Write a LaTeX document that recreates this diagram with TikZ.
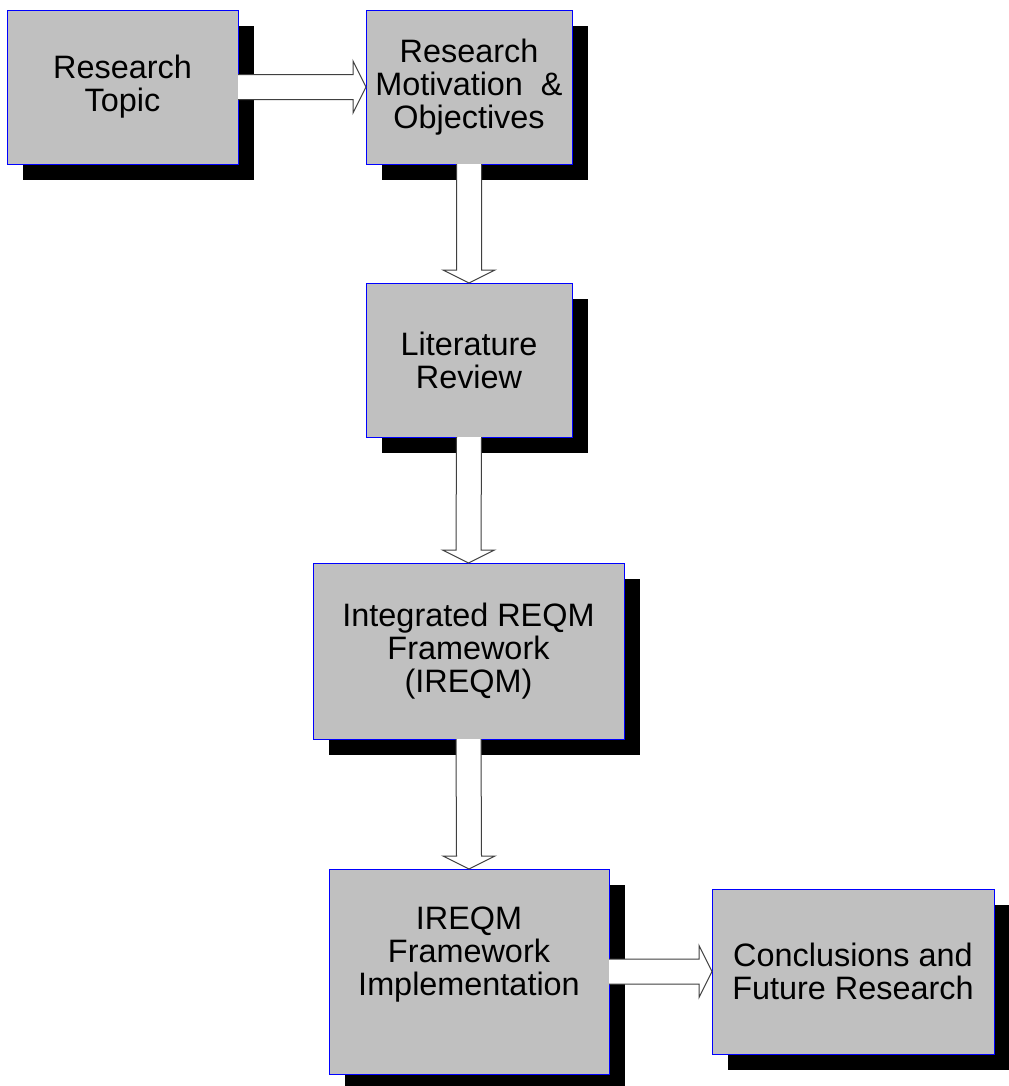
\documentclass[tikz,border=0pt]{standalone}
\usepackage{fontspec}
\setmainfont{Liberation Sans}
\usetikzlibrary{calc, shadows}

\definecolor{boxgray}{HTML}{C0C0C0}
\definecolor{arrowline}{HTML}{404040}

% block arrows between two named boxes
\newcommand\vArrow[2]{%
  \filldraw[barrow] ($(#1.south)+(-12.5,0)$) -- ($(#2.north)+(-12.5,-13)$)
    -- ($(#2.north)+(-26,-13)$) -- (#2.north) -- ($(#2.north)+(26,-13)$)
    -- ($(#2.north)+(12.5,-13)$) -- ($(#1.south)+(12.5,0)$);}
\newcommand\hArrow[2]{%
  \filldraw[barrow] ($(#1.east)+(0,-12.5)$) -- ($(#2.west)+(-13,-12.5)$)
    -- ($(#2.west)+(-13,-26)$) -- (#2.west) -- ($(#2.west)+(-13,26)$)
    -- ($(#2.west)+(-13,12.5)$) -- ($(#1.east)+(0,12.5)$);}

\begin{document}
\begin{tikzpicture}[x=0.75pt, y=-0.75pt]
  % -----------------------------
  % STYLES
  % -----------------------------
  \tikzset{
    txt/.style={font=\fontsize{24.3}{24.8}\selectfont, align=center},
    bx/.style={txt, rectangle, fill=boxgray, draw=blue, line width=0.75pt,
      outer sep=0pt, inner sep=0pt,
      drop shadow={shadow xshift=12pt, shadow yshift=-12pt, fill=black, opacity=1}},
    barrow/.style={fill=white, draw=arrowline, line width=0.75pt, line join=miter},
  }

  \useasboundingbox (0,0) rectangle (1008,1086);

  % -----------------------------
  % BOXES
  % -----------------------------
  \node[bx, minimum width=173.25pt, minimum height=115.5pt] (topic) at (122.5,87)
    {Research\\Topic};
  \node[bx, minimum width=154.5pt, minimum height=115.5pt] (motiv) at (469,87)
    {Research\\Motivation~~\&\\Objectives};
  \node[bx, minimum width=154.5pt, minimum height=115.5pt] (lit) at (469,360)
    {Literature\\Review};
  \node[bx, minimum width=233.25pt, minimum height=132pt] (ireqm) at (468.5,651)
    {Integrated REQM\\Framework\\(IREQM)};
  \node[bx, minimum width=210pt, minimum height=153.75pt] (impl) at (469,971.5) {};
  \node[txt] (impltxt) at ($(impl.center)+(0,-17)$)
    {IREQM\\Framework\\Implementation};
  \node[bx, minimum width=211.5pt, minimum height=123.75pt] (concl) at (853,971.5)
    {Conclusions and\\Future Research};

  % -----------------------------
  % ARROWS
  % -----------------------------
  \hArrow{topic}{motiv}
  \vArrow{motiv}{lit}
  \vArrow{lit}{ireqm}
  \vArrow{ireqm}{impl}
  \hArrow{impl}{concl}
\end{tikzpicture}
\end{document}
